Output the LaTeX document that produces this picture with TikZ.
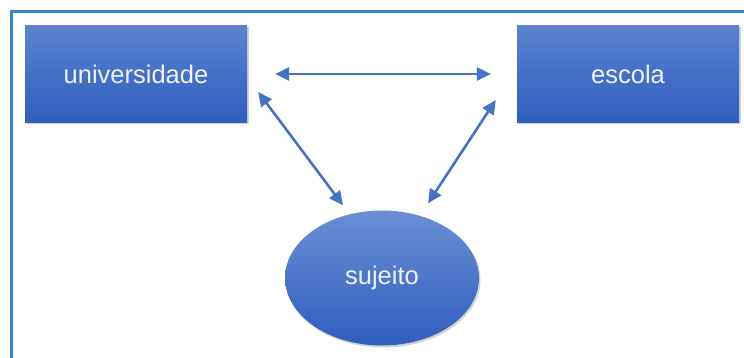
\documentclass[tikz,border=0pt]{standalone}
\usepackage{fontspec}
\setmainfont{Liberation Sans}
\usepackage{tikz}
\usetikzlibrary{calc,positioning,arrows.meta,shapes.geometric,shadows}
\definecolor{boxtop}{RGB}{90,130,208}
\definecolor{boxbottom}{RGB}{48,94,190}
\definecolor{arrowblue}{RGB}{68,114,196}
\definecolor{framblue}{RGB}{58,130,192}
\definecolor{labelwhite}{RGB}{240,242,248}

\begin{document}
\begin{tikzpicture}[x=1pt, y=-1pt,
  block/.style={rectangle, minimum width=222pt, minimum height=97pt,
    top color=boxtop, bottom color=boxbottom, draw=none,
    drop shadow={shadow xshift=1.5pt, shadow yshift=-2pt, opacity=0.35},
    font=\fontsize{25.5}{30}\selectfont, text=labelwhite},
  blob/.style={ellipse, minimum width=194pt, minimum height=135pt,
    top color=boxtop!90!white, bottom color=boxbottom, draw=none,
    drop shadow={shadow xshift=1.5pt, shadow yshift=-2pt, opacity=0.35},
    font=\fontsize{25.5}{30}\selectfont, text=labelwhite},
  link/.style={arrowblue, line width=2.6pt,
    {Triangle[length=14pt, width=13pt]}-{Triangle[length=14pt, width=13pt]}}]
  % Canvas 744 x 358
  \useasboundingbox (0,0) rectangle (744,358);
  \clip (0,0) rectangle (744,358);
  \fill[white] (0,0) rectangle (744,358);

  % Frame (right and bottom sides fall outside the picture)
  \draw[framblue, line width=3pt] (11,12) rectangle (760,372);

  % Nodes
  \node[block] (univ) at (136,74) {universidade};
  \node[block] (escola) at (628,74) {escola};
  \node[blob] (sujeito) at (382,278) {sujeito};

  % Links
  \draw[link, shorten <=28pt, shorten >=26pt] (univ.east) -- (escola.west);
  \draw[link] ($(univ.east)+(11,18)$) -- ($(sujeito.north)+(-39,-5)$);
  \draw[link] ($(escola.west)+(-21,26)$) -- ($(sujeito.north)+(46,-7)$);
\end{tikzpicture}
\end{document}
